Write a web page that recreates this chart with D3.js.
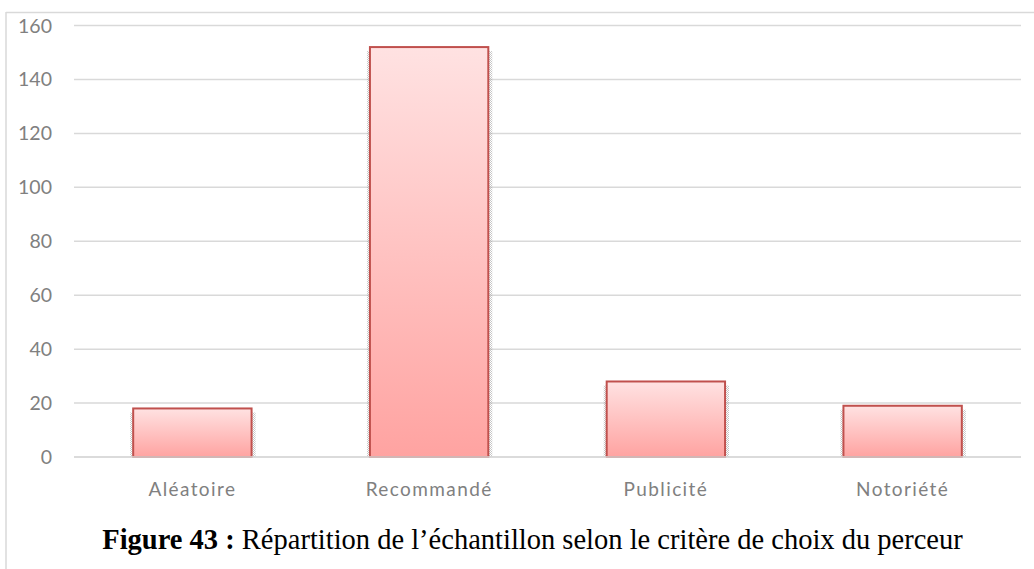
<!DOCTYPE html>
<html><head><meta charset="utf-8">
<script src="https://cdn.jsdelivr.net/npm/d3@7"></script>
<style>body{margin:0;background:#fff}svg{display:block}</style>
</head><body>
<script>
const categories = ["Aléatoire", "Recommandé", "Publicité", "Notoriété"];
const values = [18, 152, 28, 19];
const yTicks = [0, 20, 40, 60, 80, 100, 120, 140, 160];
const captionBold = "Figure 43 :";
const captionText = " Répartition de l’échantillon selon le critère de choix du perceur";

(function () {
const W = 1034, H = 569;
const svg = d3.select("body").append("svg").attr("width", W).attr("height", H);
const defs = svg.append("defs");
const grad = defs.append("linearGradient").attr("id", "barGrad").attr("x1", 0).attr("y1", 0).attr("x2", 0).attr("y2", 1);
grad.append("stop").attr("offset", "0%").attr("stop-color", "#ffe2e2");
grad.append("stop").attr("offset", "100%").attr("stop-color", "#ffa3a1");
const pat = defs.append("pattern").attr("id", "dots").attr("width", 2).attr("height", 2).attr("patternUnits", "userSpaceOnUse");
pat.append("rect").attr("x", 0).attr("y", 0).attr("width", 1).attr("height", 1).attr("fill", "#9a9a9a");
pat.append("rect").attr("x", 1).attr("y", 1).attr("width", 1).attr("height", 1).attr("fill", "#9a9a9a");

// chart frame
svg.append("line").attr("x1", 6).attr("x2", 6).attr("y1", 12).attr("y2", H).attr("stroke", "#d9d9d9").attr("stroke-width", 1.5);
svg.append("line").attr("x1", 6).attr("x2", W).attr("y1", 12.5).attr("y2", 12.5).attr("stroke", "#d9d9d9").attr("stroke-width", 1.5);

const pLeft = 74, pRight = 1021, pTop = 25.5, pBottom = 457;
const x = d3.scaleBand().domain(categories).range([pLeft, pRight]).paddingInner(0.5).paddingOuter(0.25);
const y = d3.scaleLinear().domain([0, 160]).range([pBottom, pTop]);

// grid
svg.append("g").selectAll("line").data(yTicks).join("line")
  .attr("x1", pLeft).attr("x2", pRight).attr("y1", d => y(d)).attr("y2", d => y(d))
  .attr("stroke", "#d9d9d9").attr("stroke-width", 1.5);

// y tick labels
svg.append("g").selectAll("text").data(yTicks).join("text")
  .attr("x", 52).attr("y", d => y(d)).attr("dy", "0.36em").attr("text-anchor", "end")
  .attr("font-family", "Lato, 'Open Sans', sans-serif").attr("font-size", 19.5).attr("fill", "#808080")
  .text(d => d);

// bars: shadow then bar
const data = categories.map((c, i) => ({c, v: values[i]}));
const g = svg.append("g");
g.selectAll("rect.sh").data(data).join("rect").attr("class", "sh")
  .attr("x", d => x(d.c) - 3).attr("y", d => y(d.v) + 4)
  .attr("width", x.bandwidth() + 7).attr("height", d => pBottom - y(d.v) - 4)
  .attr("fill", "url(#dots)").attr("opacity", 0.55);
g.selectAll("rect.bar").data(data).join("rect").attr("class", "bar")
  .attr("x", d => x(d.c)).attr("y", d => y(d.v))
  .attr("width", x.bandwidth()).attr("height", d => pBottom - y(d.v))
  .attr("fill", "url(#barGrad)").attr("stroke", "#c0504d").attr("stroke-width", 2);
// baseline over bars
svg.append("line").attr("x1", pLeft).attr("x2", pRight).attr("y1", y(0)).attr("y2", y(0)).attr("stroke", "#d9d9d9").attr("stroke-width", 1.5);

// category labels
svg.append("g").selectAll("text").data(categories).join("text")
  .attr("x", d => x(d) + x.bandwidth() / 2).attr("y", 496).attr("text-anchor", "middle")
  .attr("font-family", "Lato, 'Open Sans', sans-serif").attr("font-size", 19).attr("letter-spacing", 1.4)
  .attr("fill", "#808080").text(d => d);

// caption
const cap = svg.append("text").attr("x", 532.5).attr("y", 549).attr("text-anchor", "middle")
  .attr("font-family", "'Liberation Serif', 'Times New Roman', serif").attr("font-size", 28.5).attr("fill", "#000");
cap.append("tspan").attr("font-weight", "bold").text(captionBold);
cap.append("tspan").text(captionText);
})();
</script>
</body></html>
